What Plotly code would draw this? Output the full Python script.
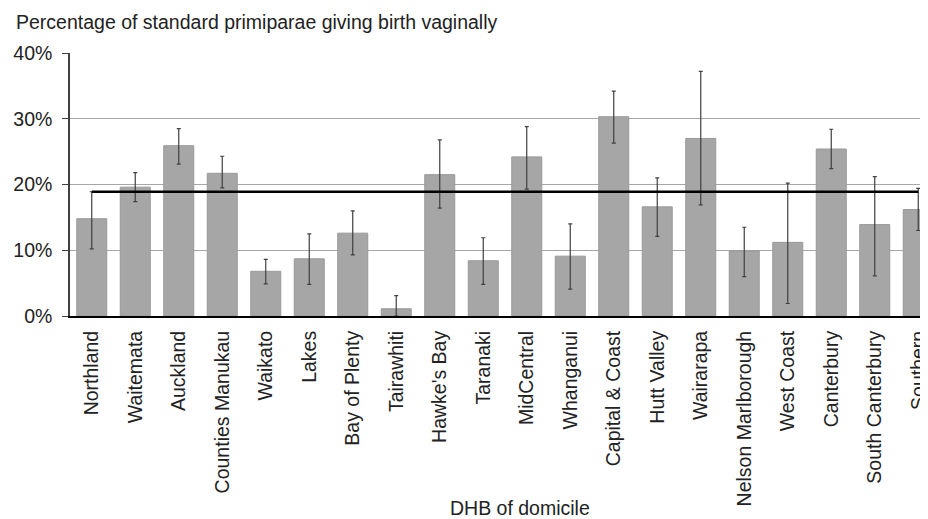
import plotly.graph_objects as go

categories = ["Northland", "Waitemata", "Auckland", "Counties Manukau", "Waikato", "Lakes",
              "Bay of Plenty", "Tairawhiti", "Hawke's Bay", "Taranaki", "MidCentral", "Whanganui",
              "Capital & Coast", "Hutt Valley", "Wairarapa", "Nelson Marlborough", "West Coast",
              "Canterbury", "South Canterbury", "Southern"]
values = [14.8, 19.6, 25.9, 21.7, 6.8, 8.7, 12.6, 1.1, 21.5, 8.4, 24.2, 9.1, 30.3, 16.6, 27.0,
          9.9, 11.2, 25.4, 13.9, 16.2]
upper = [18.9, 21.8, 28.5, 24.3, 8.6, 12.5, 16.0, 3.1, 26.8, 11.9, 28.8, 14.0, 34.2, 21.0, 37.2,
         13.5, 20.2, 28.4, 21.2, 19.4]
lower = [10.2, 17.4, 23.1, 19.5, 4.9, 4.8, 9.3, 0.0, 16.4, 4.8, 19.3, 4.1, 26.3, 12.1, 16.9,
         6.0, 1.9, 22.4, 6.1, 13.0]
national = 18.9
y_ticks = [0, 10, 20, 30, 40]
y_tick_labels = ["0%", "10%", "20%", "30%", "40%"]

err_plus = [u - v for u, v in zip(upper, values)]
err_minus = [v - l for v, l in zip(values, lower)]

font = "Liberation Sans, Arial, sans-serif"
FS = 19.5
OFF = 8  # page body margin
W, H = 928, 519
L, T = 70 - OFF, 53 - OFF
ph = 263
B = H - T - ph
R = 0
pw = W - L - R

fig = go.Figure()
fig.add_trace(go.Bar(
    x=categories, y=values,
    marker=dict(color="#a6a6a6", line=dict(color="#999999", width=1)),
    error_y=dict(type="data", array=err_plus, arrayminus=err_minus, color="#404040",
                 thickness=1.2, width=2),
    showlegend=False,
))
fig.add_trace(go.Scatter(
    x=[categories[0], categories[-1]], y=[national, national], mode="lines",
    line=dict(color="#000000", width=2.5), showlegend=False, hoverinfo="skip",
))

fig.update_layout(
    width=W, height=H,
    margin=dict(l=L, r=R, t=T, b=B, autoexpand=False),
    paper_bgcolor="white", plot_bgcolor="white",
    bargap=0.31,
    font=dict(family=font, size=FS, color="#222222"),
    annotations=[
        dict(text="Percentage of standard primiparae giving birth vaginally",
             x=(14 - 70) / pw, y=1 + (53 - 22) / ph,
             xref="paper", yref="paper", showarrow=False,
             font=dict(size=FS, color="#222222"),
             xanchor="left", yanchor="middle"),
        dict(text="DHB of domicile", x=(520 - 70) / pw, y=-(508 - 316) / ph,
             xref="paper", yref="paper", showarrow=False,
             font=dict(size=FS, color="#222222"), xanchor="center", yanchor="middle"),
    ],
)

fig.update_xaxes(
    range=[-0.5, -0.5 + pw / 43.5], tickangle=-90, showgrid=False, automargin=False,
    showline=True, linecolor="#000000", linewidth=2, ticks="",
    ticklabelstandoff=5,
    tickfont=dict(size=FS, color="#222222"),
)
fig.update_yaxes(
    range=[0, 40], tickvals=y_ticks, ticktext=y_tick_labels, automargin=False,
    showgrid=True, gridcolor="#a6a6a6", gridwidth=1,
    showline=True, linecolor="#404040", linewidth=1.5,
    ticks="outside", ticklen=6, tickcolor="#404040",
    ticklabelstandoff=6, zeroline=False,
    tickfont=dict(size=FS, color="#222222"),
)

fig.write_html("out.html")
